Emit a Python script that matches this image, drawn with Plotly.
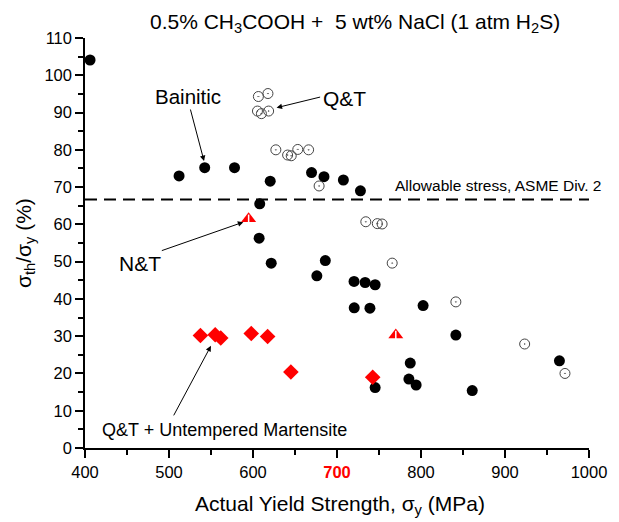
import plotly.graph_objects as go

# ---- data ----
bain_x = [406, 512, 542.5, 578, 620.5, 669.7, 684.5, 707.6, 727.9, 608, 607.3, 621.7, 686.1, 676,
          720.3, 733.5, 745.4, 720.5, 739.2, 802.5, 841.5, 787.2, 745.4, 785.6, 794.2, 861, 964.8]
bain_y = [104.1, 73.0, 75.2, 75.2, 71.6, 73.9, 72.8, 71.9, 69.0, 65.5, 56.3, 49.6, 50.3, 46.2,
          44.7, 44.4, 43.8, 37.6, 37.5, 38.2, 30.3, 22.8, 16.2, 18.5, 16.9, 15.4, 23.4]

qt_x = [606.4, 617.8, 605.3, 610, 618.6, 627.2, 641.2, 645.5, 653.3, 666.2, 678.7,
        734.3, 748, 753.7, 765.7, 841.5, 923.4, 971.4]
qt_y = [94.3, 95.1, 90.4, 89.7, 90.4, 80.0, 78.6, 78.4, 80.1, 80.0, 70.3,
        60.7, 60.2, 60.1, 49.6, 39.2, 27.9, 20.0]

um_x = [537.4, 555, 561.6, 597.9, 617.4, 645.1, 742.5]
um_y = [30.2, 30.4, 29.5, 30.7, 29.9, 20.4, 19.0]

nt_x = [594.8, 770]
nt_y = [61.5, 30.3]

allowable = 66.7

x_ticks = [400, 500, 600, 700, 800, 900, 1000]
x_ticktext = ["400", "500", "600", "<b><span style='color:#ff0000'>700</span></b>", "800", "900", "1000"]
y_ticks = list(range(0, 111, 10))

FONT = "Liberation Sans, Arial, sans-serif"

fig = go.Figure()

fig.add_trace(go.Scatter(x=bain_x, y=bain_y, mode="markers",
                         marker=dict(symbol="circle", size=11, color="black"),
                         showlegend=False, cliponaxis=False))
fig.add_trace(go.Scatter(x=qt_x, y=qt_y, mode="markers",
                         marker=dict(symbol="circle-open-dot", size=10, color="#444444",
                                     line=dict(width=1, color="#444444")),
                         showlegend=False, cliponaxis=False))
fig.add_trace(go.Scatter(x=um_x, y=um_y, mode="markers",
                         marker=dict(symbol="diamond", size=12, color="#ff0000"),
                         showlegend=False))
fig.add_trace(go.Scatter(x=nt_x, y=nt_y, mode="markers",
                         marker=dict(symbol="triangle-up", size=13, color="#ff0000"),
                         showlegend=False))
fig.add_trace(go.Scatter(x=nt_x, y=nt_y, mode="markers",
                         marker=dict(symbol="line-ns", size=6,
                                     line=dict(width=1.5, color="white")),
                         showlegend=False))

fig.add_shape(type="line", xref="x", yref="y", x0=x_ticks[0], x1=x_ticks[-1],
              y0=allowable, y1=allowable,
              line=dict(color="black", width=2, dash="12px,7px"))

ann = []
# Title
ann.append(dict(xref="paper", yref="paper", x=0.535, y=1.036, xanchor="center", yanchor="middle",
                text="0.5% CH<sub>3</sub>COOH + &nbsp;5 wt% NaCl (1 atm H<sub>2</sub>S)",
                showarrow=False, font=dict(size=21, color="black", family=FONT)))
# axis titles
ann.append(dict(xref="paper", yref="paper", x=0.506, y=-0.138, xanchor="center", yanchor="middle",
                text="Actual Yield Strength, σ<sub>y</sub> (MPa)",
                showarrow=False, font=dict(size=21, color="black", family=FONT)))
ann.append(dict(xref="paper", yref="paper", x=-0.119, y=0.5, xanchor="center", yanchor="middle",
                text="σ<sub>th</sub>/σ<sub>y</sub> (%)", textangle=-90,
                showarrow=False, font=dict(size=21, color="black", family=FONT)))
# labels
ann.append(dict(xref="paper", yref="y", x=1.027, y=70.5, xanchor="right", yanchor="middle",
                text="Allowable stress, ASME Div. 2", showarrow=False,
                font=dict(size=15.5, color="black", family=FONT)))
ann.append(dict(x=522.6, y=94.2, text="Bainitic", showarrow=False,
                font=dict(size=20.5, color="black", family=FONT)))
ann.append(dict(x=708.4, y=93.9, text="Q&amp;T", showarrow=False,
                font=dict(size=21, color="black", family=FONT)))
ann.append(dict(x=465.5, y=49.6, text="N&amp;T", showarrow=False,
                font=dict(size=21, color="black", family=FONT)))
ann.append(dict(x=566.3, y=4.9, text="Q&amp;T + Untempered Martensite", showarrow=False,
                font=dict(size=18, color="black", family=FONT)))
# arrows
arrow_style = dict(text="", showarrow=True, arrowhead=2, arrowsize=1.1, arrowwidth=1,
                   arrowcolor="black", standoff=0)
ann.append(dict(x=541.7, y=77.0, ax=-14, ay=-53, **arrow_style))
ann.append(dict(x=628.1, y=91.3, ax=45, ay=-11, **arrow_style))
ann.append(dict(x=588.5, y=60.6, ax=-83, ay=29, **arrow_style))
ann.append(dict(x=549.9, y=27.4, ax=-38, ay=71, **arrow_style))

fig.update_layout(
    width=619, height=522,
    margin=dict(l=85, r=22, t=38, b=74),
    paper_bgcolor="white", plot_bgcolor="white",
    font=dict(family=FONT, color="black", size=16),
    annotations=ann,
    xaxis=dict(range=[400, 1000], tickvals=x_ticks, ticktext=x_ticktext,
               showgrid=False, zeroline=False, showline=True, linecolor="black", linewidth=1.5,
               ticks="outside", ticklen=8, tickwidth=1.5, tickcolor="black",
               tickfont=dict(size=16.5, family=FONT, color="black"),
               minor=dict(dtick=50, ticks="outside", ticklen=5, tickwidth=1.5, tickcolor="black")),
    yaxis=dict(range=[0, 110], tickvals=y_ticks,
               showgrid=False, zeroline=False, showline=True, linecolor="black", linewidth=1.5,
               ticks="outside", ticklen=8, tickwidth=1.5, tickcolor="black",
               tickfont=dict(size=16.5, family=FONT, color="black"),
               minor=dict(dtick=5, ticks="outside", ticklen=5, tickwidth=1.5, tickcolor="black")),
)

fig.write_html("out.html")
